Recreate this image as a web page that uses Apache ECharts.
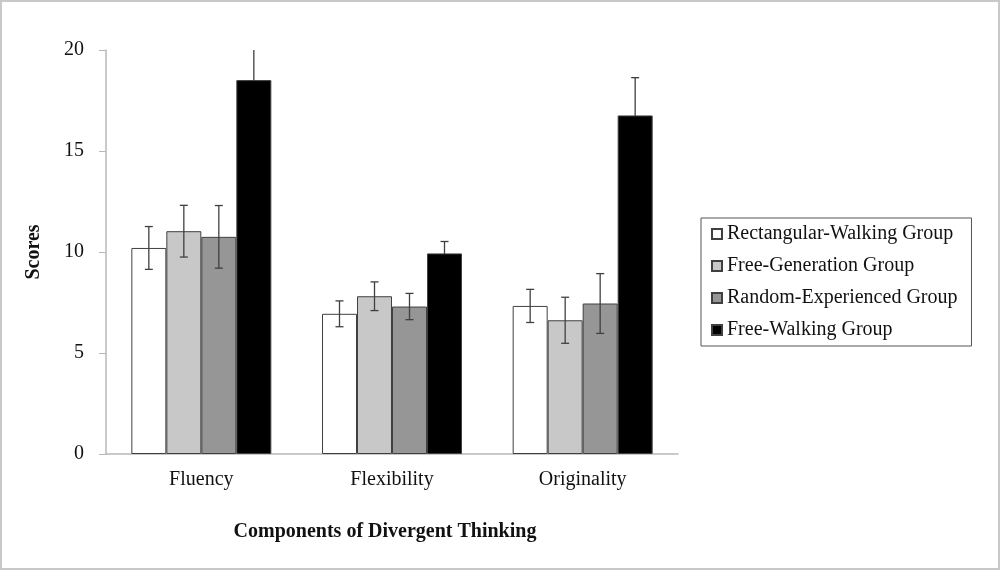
<!DOCTYPE html>
<html>
<head>
<meta charset="utf-8">
<script src="https://cdn.jsdelivr.net/npm/echarts@6/dist/echarts.min.js"></script>
<style>
  html, body { margin: 0; padding: 0; background: #fff; }
  #chart-container { width: 1000px; height: 570px; box-sizing: border-box; border: 2px solid #c8c8c8; }
</style>
</head>
<body>
<div id="chart-container"></div>
<script>
var categories = ['Fluency', 'Flexibility', 'Originality'];
var groupNames = ['Rectangular-Walking Group', 'Free-Generation Group', 'Random-Experienced Group', 'Free-Walking Group'];

// means per group (Fluency, Flexibility, Originality)
var rectMean = [10.2, 6.94, 7.33];
var freeGenMean = [11.03, 7.81, 6.62];
var randomMean = [10.75, 7.30, 7.45];
var freeWalkMean = [18.51, 9.93, 16.76];

// error bar half-lengths
var rectErr = [1.06, 0.64, 0.82];
var freeGenErr = [1.28, 0.71, 1.14];
var randomErr = [1.55, 0.65, 1.48];
var freeWalkErr = [1.6, 0.59, 1.87];

var yTicks = [0, 5, 10, 15, 20];

var means = [rectMean, freeGenMean, randomMean, freeWalkMean];
var errs = [rectErr, freeGenErr, randomErr, freeWalkErr];
var fills = ['#ffffff', '#c8c8c8', '#969696', '#000000'];
var serif = 'Liberation Serif';
var barW = 35;

var dom = document.getElementById('chart-container');
var myChart = echarts.init(dom, null, { renderer: 'canvas' });

var series = [];
means.forEach(function (m, i) {
  series.push({
    name: groupNames[i],
    type: 'bar',
    data: m,
    barWidth: barW,
    barGap: '0%',
    z: 2,
    itemStyle: { color: fills[i], borderColor: '#404040', borderWidth: 1 }
  });
});
// error bars (the black bars hide the lower half of theirs)
means.forEach(function (m, i) {
  var d = m.map(function (v, k) { return [k, v - errs[i][k], v + errs[i][k]]; });
  series.push({
    type: 'custom',
    data: d,
    clip: true,
    z: i === 3 ? 1 : 5,
    silent: true,
    renderItem: function (params, api) {
      var off = (i - 1.5) * barW;
      var lo = api.coord([api.value(0), api.value(1)]);
      var hi = api.coord([api.value(0), api.value(2)]);
      var x = lo[0] + off;
      var c = 4;
      var st = { stroke: '#404040', lineWidth: 1.3, fill: null };
      return {
        type: 'group',
        children: [
          { type: 'line', shape: { x1: x, y1: lo[1], x2: x, y2: hi[1] }, style: st },
          { type: 'line', shape: { x1: x - c, y1: lo[1], x2: x + c, y2: lo[1] }, style: st },
          { type: 'line', shape: { x1: x - c, y1: hi[1], x2: x + c, y2: hi[1] }, style: st }
        ]
      };
    }
  });
});

var option = {
  animation: false,
  textStyle: { fontFamily: serif },
  grid: { left: 104, right: 320, top: 48, bottom: 114 },
  legend: {
    orient: 'vertical',
    left: 699,
    top: 216,
    data: groupNames,
    icon: 'rect',
    itemWidth: 10,
    itemHeight: 10,
    itemGap: 12,
    padding: [6, 14, 6, 10],
    borderColor: '#555',
    borderWidth: 1,
    textStyle: { fontFamily: serif, fontSize: 20, color: '#111', lineHeight: 20 }
  },
  xAxis: {
    type: 'category',
    data: categories,
    name: 'Components of Divergent Thinking',
    nameLocation: 'middle',
    nameGap: 68,
    nameTextStyle: { fontFamily: serif, fontSize: 20, fontWeight: 'bold', color: '#111', padding: [0, 14, 0, 0] },
    axisLine: { lineStyle: { color: '#b8b8b8', width: 1.5 } },
    axisTick: { show: false },
    axisLabel: { fontFamily: serif, fontSize: 20, color: '#111', margin: 16 }
  },
  yAxis: {
    type: 'value',
    min: yTicks[0],
    max: yTicks[yTicks.length - 1],
    interval: 5,
    name: 'Scores',
    nameLocation: 'middle',
    nameGap: 62,
    nameRotate: 90,
    nameTextStyle: { fontFamily: serif, fontSize: 20, fontWeight: 'bold', color: '#111' },
    splitLine: { show: false },
    axisLine: { show: true, lineStyle: { color: '#b8b8b8', width: 1.5 } },
    axisTick: { show: true, length: 7, lineStyle: { color: '#b8b8b8' } },
    axisLabel: { fontFamily: serif, fontSize: 20, color: '#111', margin: 22 }
  },
  series: series
};

myChart.setOption(option);
window.addEventListener('resize', myChart.resize);
</script>
</body>
</html>
